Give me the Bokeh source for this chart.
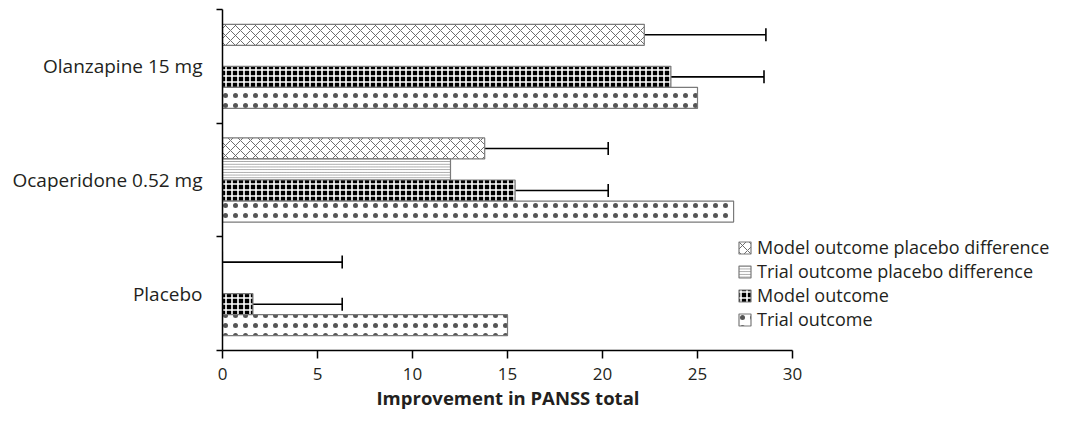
from bokeh.plotting import figure
from bokeh.models import (ColumnDataSource, Range1d, FixedTicker, Whisker, TeeHead,
                          Legend, LegendItem, Title)
from bokeh.embed import file_html
from bokeh.resources import INLINE

# ---- data ----
groups = ["Placebo", "Ocaperidone 0.52 mg", "Olanzapine 15 mg"]
series = ["Model outcome placebo difference", "Trial outcome placebo difference",
          "Model outcome", "Trial outcome"]
model_diff = [0.0, 13.8, 22.2]
model_diff_upper = [6.3, 20.3, 28.6]
trial_diff = [0.0, 12.0, float("nan")]
model_outcome = [1.6, 15.4, 23.6]
model_outcome_upper = [6.3, 20.3, 28.5]
trial_outcome = [15.0, 26.9, 25.0]
x_ticks = [0, 5, 10, 15, 20, 25, 30]
x_axis_max = 30
x_title = "Improvement in PANSS total"

FONT = "Open Sans"
TXT = "#231f20"
EDGE = "#7a7a7a"

W, H = 1058, 409
LEFT = 222
PX_PER_UNIT = 19.0
x_end = (W - LEFT) / PX_PER_UNIT  # room on the right for the legend

p = figure(width=W, height=H, output_backend="svg", toolbar_location=None,
           x_range=Range1d(0, x_end), y_range=Range1d(0, 3),
           min_border_left=LEFT, min_border_right=0, min_border_top=9,
           min_border_bottom=0)
p.outline_line_color = None
p.xgrid.visible = False
p.ygrid.visible = False

bar_h = 0.185
offsets = [1.5 * bar_h, 0.5 * bar_h, -0.5 * bar_h, -1.5 * bar_h]
values = [model_diff, trial_diff, model_outcome, trial_outcome]
styles = [
    dict(fill_color="white", hatch_pattern="diagonal_cross", hatch_color="#5e5e5e",
         hatch_scale=10, hatch_weight=0.9),
    dict(fill_color="white", hatch_pattern="horizontal_line", hatch_color="#8a8a8a",
         hatch_scale=2.7, hatch_weight=0.8),
    dict(fill_color="black", hatch_pattern="cross", hatch_color="white",
         hatch_scale=6, hatch_weight=1.6),
    dict(fill_color="white", hatch_pattern="dot", hatch_color="#555555",
         hatch_scale=10, hatch_weight=0.6),
]

items = []
for k in range(4):
    ys = [i + 0.5 + offsets[k] for i in range(len(groups))]
    src = ColumnDataSource(dict(y=ys, right=values[k]))
    r = p.hbar(y="y", left=0, right="right", height=bar_h, source=src,
               line_color=EDGE, line_width=1.2, **styles[k])
    items.append(LegendItem(label=series[k], renderers=[r]))

for k, vals, ups in [(0, model_diff, model_diff_upper), (2, model_outcome, model_outcome_upper)]:
    ys = [i + 0.5 + offsets[k] for i in range(len(groups))]
    esrc = ColumnDataSource(dict(base=ys, lower=vals, upper=ups))
    wk = Whisker(source=esrc, base="base", lower="lower", upper="upper", dimension="width",
                 line_color="black", line_width=1.6,
                 upper_head=TeeHead(size=13, line_color="black", line_width=1.6),
                 lower_head=None)
    p.add_layout(wk)

xa = p.xaxis[0]
xa.ticker = FixedTicker(ticks=x_ticks)
xa.bounds = (0, x_axis_max)
xa.major_label_text_font = FONT
xa.major_label_text_font_size = "17px"
xa.major_label_text_color = TXT
xa.major_label_standoff = 9
xa.major_tick_out = 8
xa.major_tick_in = 0
xa.minor_tick_out = 0
xa.axis_line_width = 1.5
xa.major_tick_line_width = 1.5
xa.axis_line_color = "black"

# axis title centred under the 0-30 span of the axis
p.add_layout(Title(text=x_title, align="left", offset=154, standoff=0,
                   text_font=FONT, text_font_style="bold", text_font_size="18.5px",
                   text_color=TXT), "below")

ya = p.yaxis[0]
ya.ticker = FixedTicker(ticks=[i + 0.5 for i in range(len(groups))],
                        minor_ticks=list(range(len(groups) + 1)))
ya.major_label_overrides = {i + 0.5: g for i, g in enumerate(groups)}
ya.major_label_text_font = FONT
ya.major_label_text_font_size = "19px"
ya.major_label_text_color = TXT
ya.major_label_standoff = 14
ya.major_tick_out = 0
ya.major_tick_in = 0
ya.minor_tick_out = 6
ya.minor_tick_in = 0
ya.minor_tick_line_width = 1.5
ya.minor_tick_line_color = "black"
ya.axis_line_width = 1.5
ya.axis_line_color = "black"

legend = Legend(items=items, location=(515, 19), orientation="vertical",
                label_text_font=FONT, label_text_font_size="18px", label_text_color=TXT,
                glyph_width=15, glyph_height=15, label_height=20, spacing=0,
                padding=0, margin=0, border_line_color=None, background_fill_alpha=0,
                label_standoff=5)
p.add_layout(legend, "center")

open("out.html", "w").write(file_html(p, INLINE))
